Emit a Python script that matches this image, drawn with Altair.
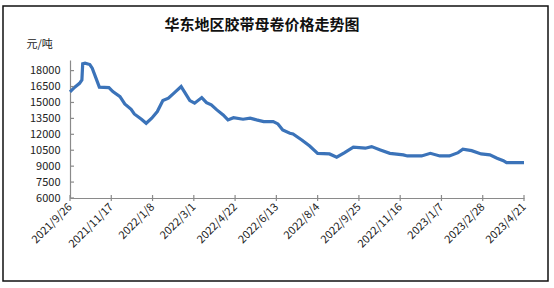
import altair as alt
import pandas as pd

dates = [
    "2021-09-26", "2021-10-02", "2021-10-08", "2021-10-11", "2021-10-12", "2021-10-15",
    "2021-10-21", "2021-10-24", "2021-10-28", "2021-11-02", "2021-11-14", "2021-11-19",
    "2021-11-28", "2021-12-04", "2021-12-12", "2021-12-16", "2021-12-25", "2021-12-31",
    "2022-01-07", "2022-01-14", "2022-01-21", "2022-01-28", "2022-02-05", "2022-02-13",
    "2022-02-17", "2022-02-24", "2022-03-02", "2022-03-11", "2022-03-17", "2022-03-23",
    "2022-03-30", "2022-04-07", "2022-04-13", "2022-04-20", "2022-05-02", "2022-05-11",
    "2022-05-19", "2022-05-28", "2022-06-09", "2022-06-15", "2022-06-21", "2022-06-30",
    "2022-07-04", "2022-07-15", "2022-07-25", "2022-08-04", "2022-08-19", "2022-08-28",
    "2022-09-07", "2022-09-18", "2022-10-03", "2022-10-11", "2022-10-22", "2022-11-03",
    "2022-11-20", "2022-11-25", "2022-12-13", "2022-12-24", "2023-01-05", "2023-01-17",
    "2023-01-28", "2023-02-03", "2023-02-14", "2023-02-26", "2023-03-09", "2023-03-18",
    "2023-03-26", "2023-03-30", "2023-04-21",
]
prices = [
    16000, 16440, 16800, 17130, 18640, 18700,
    18570, 18230, 17440, 16440, 16400, 16020,
    15550, 14860, 14360, 13920, 13420, 13040,
    13520, 14140, 15180, 15400, 15950, 16500,
    16020, 15180, 14930, 15460, 14990, 14770,
    14300, 13830, 13360, 13570, 13420, 13520,
    13360, 13200, 13200, 12980, 12410, 12100,
    12040, 11470, 10900, 10210, 10150, 9840,
    10270, 10780, 10690, 10840, 10530, 10210,
    10060, 9960, 9960, 10210, 9960, 9960,
    10270, 10590, 10460, 10150, 10060, 9740,
    9520, 9330, 9330,
]
tick_dates = [
    "2021-09-26", "2021-11-17", "2022-01-08", "2022-03-01", "2022-04-22", "2022-06-13",
    "2022-08-04", "2022-09-25", "2022-11-16", "2023-01-07", "2023-02-28", "2023-04-21",
]
y_ticks = [6000, 7500, 9000, 10500, 12000, 13500, 15000, 16500, 18000]

FONT = "Noto Sans CJK SC"
GRAY = "#8a8a8a"


def dt(s):
    y, m, d = (int(v) for v in s.split("-"))
    return alt.DateTime(year=y, month=m, date=d)


df = pd.DataFrame({"date": pd.to_datetime(dates), "price": prices})
tick_df = pd.DataFrame({"date": pd.to_datetime(tick_dates)})
ytick_df = pd.DataFrame({"price": y_ticks})

xscale = alt.Scale(domain=[dt(tick_dates[0]), dt(tick_dates[-1])])
yscale = alt.Scale(domain=[6000, 19000], nice=False, zero=False)

xaxis = alt.Axis(
    values=[dt(s) for s in tick_dates],
    format="%Y/%-m/%-d",
    labelAngle=-45,
    labelAlign="right",
    labelBaseline="middle",
    labelPadding=7,
    labelFont=FONT,
    labelFontSize=11,
    labelColor="#222222",
    tickSize=0,
    domainColor=GRAY,
    domainWidth=1.2,
    grid=False,
    labelOverlap=False,
)
yaxis = alt.Axis(
    values=y_ticks,
    tickCount=len(y_ticks),
    format="d",
    title="元/吨",
    titleAngle=0,
    titleX=-44,
    titleY=-16,
    titleAlign="left",
    titleBaseline="middle",
    titleFont=FONT,
    titleFontSize=11,
    titleFontWeight="normal",
    titleColor="#222222",
    labelFont=FONT,
    labelFontSize=11,
    labelColor="#222222",
    labelPadding=10,
    labelOverlap=False,
    labelBound=False,
    tickSize=0,
    domainColor=GRAY,
    domainWidth=1.2,
    grid=False,
)

line = alt.Chart(df).mark_line(color="#3b73b9", strokeWidth=3.2).encode(
    x=alt.X("date:T", scale=xscale, title=None, axis=xaxis),
    y=alt.Y("price:Q", scale=yscale, title="元/吨", axis=yaxis),
)

xticks = alt.Chart(tick_df).mark_rule(color=GRAY, strokeWidth=1.2).encode(
    x=alt.X("date:T", scale=xscale, title=None, axis=xaxis),
    y=alt.value(135),
    y2=alt.value(141),
)

yticks = alt.Chart(ytick_df).mark_rule(color=GRAY, strokeWidth=1.2).encode(
    y=alt.Y("price:Q", scale=yscale, title="元/吨", axis=yaxis),
    x=alt.value(0),
    x2=alt.value(4),
)

border = alt.Chart(pd.DataFrame({"a": [0]})).mark_rect(
    fill=None, stroke="#111111", strokeWidth=1.5
).encode(
    x=alt.value(-67), x2=alt.value(478), y=alt.value(-54), y2=alt.value(221)
)

chart = alt.layer(border, line, xticks, yticks).properties(
    width=454,
    height=138,
    background="white",
    padding={"left": 70, "top": 60, "right": 30, "bottom": 90},
    autosize=alt.AutoSizeParams(type="none"),
    title=alt.TitleParams(
        "华东地区胶带母卷价格走势图",
        font=FONT,
        fontSize=15,
        fontWeight="bold",
        color="#111111",
        anchor="middle",
        frame="group",
        baseline="alphabetic",
        dx=-35,
        offset=-40,
    ),
).configure_view(stroke=None)

chart.save("out.html", embed_options={"renderer": "svg", "actions": False})
